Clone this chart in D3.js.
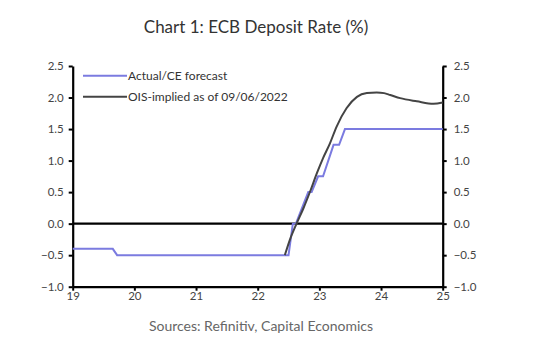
<!DOCTYPE html>
<html>
<head>
<meta charset="utf-8">
<script src="https://cdn.jsdelivr.net/npm/d3@7"></script>
<style>
  body { margin: 0; background: #fff; }
  text { font-family: Lato, "Open Sans", sans-serif; }
</style>
</head>
<body>
<div id="chart"></div>
<script>
// Years are given as 19 = 2019, fractional = part of year
const actualYears  = [19, 19.65, 19.72, 22.5, 22.57, 22.62, 22.82, 22.875, 22.98, 23.06, 23.23, 23.32, 23.415, 25];
const actualValues = [-0.4, -0.4, -0.5, -0.5, 0, 0, 0.5, 0.5, 0.75, 0.75, 1.25, 1.25, 1.5, 1.5];

const oisYears  = [22.44, 22.52, 22.63, 22.74, 22.85, 22.96, 23.06, 23.17, 23.28, 23.44, 23.61, 23.77, 23.93, 24.05, 24.15, 24.31, 24.58, 24.85, 25];
const oisValues = [-0.5, -0.26, 0, 0.24, 0.51, 0.8, 1.04, 1.27, 1.54, 1.83, 2.01, 2.07, 2.08, 2.07, 2.04, 1.99, 1.94, 1.9, 1.92];

const xTicks = [19, 20, 21, 22, 23, 24, 25];
const yTicks = [-1.0, -0.5, 0.0, 0.5, 1.0, 1.5, 2.0, 2.5];
const seriesNames = ["Actual/CE forecast", "OIS-implied as of 09/06/2022"];

const w = 533, h = 361;
const margin = { left: 72.7, right: 533 - 442.7, top: 66, bottom: 361 - 286.7 };

const svg = d3.select("#chart").append("svg")
  .attr("width", w)
  .attr("height", h);

const x = d3.scaleLinear().domain([19, 25]).range([margin.left, w - margin.right]);
const y = d3.scaleLinear().domain([-1, 2.5]).range([h - margin.bottom, margin.top]);

// title + source
svg.append("text")
  .attr("x", 256).attr("y", 33)
  .attr("text-anchor", "middle")
  .style("font-size", "17px")
  .style("fill", "#333")
  .text("Chart 1: ECB Deposit Rate (%)");

svg.append("text")
  .attr("x", 261).attr("y", 331)
  .attr("text-anchor", "middle")
  .style("font-size", "14px")
  .style("fill", "#666")
  .text("Sources: Refinitiv, Capital Economics");

// axes
const fmt = d3.format(".1f");
const styleAxis = g => {
  g.select(".domain").attr("stroke", "#000").attr("stroke-width", 2.2);
  g.selectAll(".tick line").attr("stroke", "#000").attr("stroke-width", 2);
  g.selectAll(".tick text").style("font-size", "11.5px").style("fill", "#444").style("font-family", "Lato, sans-serif");
};

svg.append("g")
  .attr("transform", `translate(${margin.left},0)`)
  .call(d3.axisLeft(y).tickValues(yTicks).tickFormat(fmt).tickSize(4).tickSizeOuter(0).tickPadding(5))
  .call(styleAxis);

svg.append("g")
  .attr("transform", `translate(${w - margin.right},0)`)
  .call(d3.axisRight(y).tickValues(yTicks).tickFormat(fmt).tickSize(4).tickSizeOuter(0).tickPadding(7))
  .call(styleAxis);

svg.append("g")
  .attr("transform", `translate(0,${h - margin.bottom})`)
  .call(d3.axisBottom(x).tickValues(xTicks).tickFormat(d3.format("d")).tickSize(4).tickSizeOuter(0).tickPadding(1))
  .call(styleAxis);

// zero line
svg.append("line")
  .attr("x1", x(19)).attr("x2", x(25))
  .attr("y1", y(0)).attr("y2", y(0))
  .attr("stroke", "#000").attr("stroke-width", 2.2);

// lines
const actual = actualYears.map((d, i) => [d, actualValues[i]]);
const ois = oisYears.map((d, i) => [d, oisValues[i]]);

svg.append("path")
  .datum(actual)
  .attr("fill", "none")
  .attr("stroke", "#7b7be0")
  .attr("stroke-width", 2)
  .attr("d", d3.line().x(d => x(d[0])).y(d => y(d[1])));

svg.append("path")
  .datum(ois)
  .attr("fill", "none")
  .attr("stroke", "#444")
  .attr("stroke-width", 2)
  .attr("d", d3.line().curve(d3.curveMonotoneX).x(d => x(d[0])).y(d => y(d[1])));

// legend
const legendColors = ["#7b7be0", "#444"];
const legend = svg.append("g");
seriesNames.forEach((name, i) => {
  const ly = 75.7 + i * 21;
  legend.append("line")
    .attr("x1", 83).attr("x2", 127)
    .attr("y1", ly).attr("y2", ly)
    .attr("stroke", legendColors[i]).attr("stroke-width", 2);
  legend.append("text")
    .attr("x", 128).attr("y", ly + 4)
    .style("font-size", "12px")
    .style("fill", "#333")
    .text(name);
});
</script>
</body>
</html>
